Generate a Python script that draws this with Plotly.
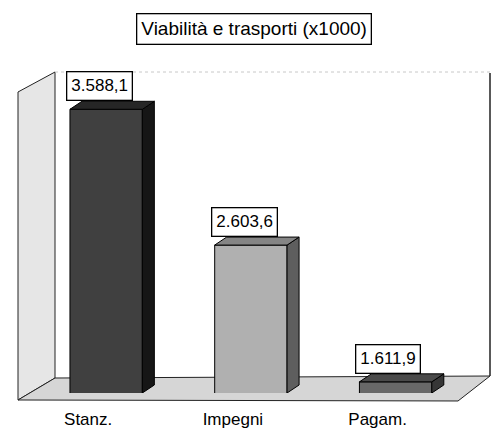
import plotly.graph_objects as go

# ---- data ----
categories = ["Stanz.", "Impegni", "Pagam."]
values = [3588.1, 2603.6, 1611.9]
value_labels = ["3.588,1", "2.603,6", "1.611,9"]
title_text = "Viabilità e trasporti (x1000)"

# ---- styling / geometry ----
W, H = 493, 432
PL, PR, PT, PB = 18, 458, 90, 393          # plot frame in pixels
ML, MR, MT, MB = PL, W - PR, PT, H - PB
Y_MIN, Y_MAX = 1531, 3728
X_MIN, X_MAX = -0.609, 2.431
BAR_W = 0.5
FONT = "Arial, Liberation Sans, sans-serif"
front_colors = ["#404040", "#b0b0b0", "#686868"]
side_colors = ["#161616", "#5e5e5e", "#363636"]
top_colors = ["#262626", "#858585", "#4a4a4a"]

plot_w = PR - PL
plot_h = PB - PT
xu = (X_MAX - X_MIN) / plot_w  # data units per px
yu = (Y_MAX - Y_MIN) / plot_h

def px_x(px):
    return (px - PL) / plot_w

def px_y(py):
    return (PB - py) / plot_h

xs = list(range(len(categories)))

fig = go.Figure()
fig.add_trace(go.Bar(
    x=xs, y=values, width=BAR_W,
    marker=dict(color=front_colors, line=dict(color="#000", width=1)),
    hoverinfo="skip",
))

shapes = []
def poly(points, fill, line="#222", width=1, layer="below"):
    d = "M " + " L ".join(f"{px_x(a):.4f},{px_y(b):.4f}" for a, b in points) + " Z"
    return dict(type="path", xref="paper", yref="paper", path=d,
                fillcolor=fill, line=dict(color=line, width=width), layer=layer)

shapes.append(poly([(18, 92), (55, 72), (55, 378), (18, 400)], "#e6e6e6"))
shapes.append(poly([(18, 400), (55, 378), (490, 376), (458, 401)], "#d6d6d6"))
shapes.append(dict(type="line", xref="paper", yref="paper",
                   x0=px_x(490), x1=px_x(490), y0=px_y(73), y1=px_y(376),
                   line=dict(color="#222", width=1.5), layer="below"))
shapes.append(dict(type="line", xref="paper", yref="paper",
                   x0=px_x(55), x1=px_x(490), y0=px_y(72), y1=px_y(72),
                   line=dict(color="#c8c8c8", width=1, dash="dot"), layer="below"))

# 3D faces of bars, derived from data
dx = 12 * xu
dy = 8 * yu
for i, v in enumerate(values):
    xl = xs[i] - BAR_W / 2
    xr = xs[i] + BAR_W / 2
    side = f"M {xr},{Y_MIN} L {xr+dx},{Y_MIN+dy} L {xr+dx},{v+dy} L {xr},{v} Z"
    top = f"M {xl},{v} L {xl+dx},{v+dy} L {xr+dx},{v+dy} L {xr},{v} Z"
    shapes.append(dict(type="path", xref="x", yref="y", path=side,
                       fillcolor=side_colors[i], line=dict(color="#000", width=1)))
    shapes.append(dict(type="path", xref="x", yref="y", path=top,
                       fillcolor=top_colors[i], line=dict(color="#000", width=1)))

annotations = []
for i, v in enumerate(values):
    annotations.append(dict(
        x=xs[i] - BAR_W / 2 - 4 * xu, y=v, xref="x", yref="y",
        text=value_labels[i], showarrow=False, xanchor="left", yanchor="bottom",
        yshift=8, bgcolor="white", bordercolor="#000", borderwidth=1.3, borderpad=4,
        font=dict(family=FONT, size=17, color="#000"),
    ))
annotations.append(dict(
    x=px_x(254), y=px_y(29), xref="paper", yref="paper", text=title_text,
    showarrow=False, xanchor="center", yanchor="middle",
    bgcolor="white", bordercolor="#000", borderwidth=1.3, borderpad=4,
    font=dict(family=FONT, size=19, color="#000"),
))

fig.update_layout(
    width=W, height=H,
    margin=dict(l=ML, r=MR, t=MT, b=MB, pad=0, autoexpand=False),
    paper_bgcolor="white", plot_bgcolor="rgba(0,0,0,0)",
    showlegend=False, bargap=0,
    shapes=shapes, annotations=annotations,
    xaxis=dict(range=[X_MIN, X_MAX], tickvals=xs, ticktext=categories,
               showgrid=False, zeroline=False, showline=False, ticks="",
               automargin=False,
               ticklabelshift=-18, ticklabelstandoff=14,
               tickfont=dict(family=FONT, size=17, color="#000")),
    yaxis=dict(range=[Y_MIN, Y_MAX], showgrid=False, zeroline=False,
               showline=False, showticklabels=False, ticks="", automargin=False),
)

fig.write_html(
    "out.html",
    config={"displayModeBar": False, "staticPlot": True},
    post_script="document.body.style.margin='0';document.body.style.overflow='hidden';",
)
